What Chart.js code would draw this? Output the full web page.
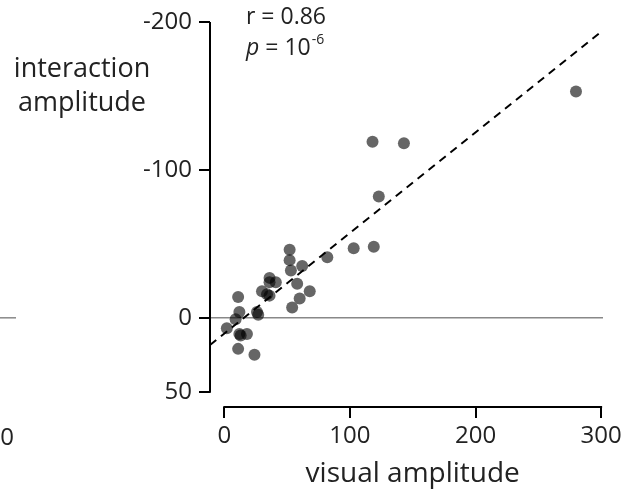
<!DOCTYPE html>
<html>
<head>
<meta charset="utf-8">
<script src="https://cdn.jsdelivr.net/npm/chart.js@4"></script>
<style>
  html, body { margin: 0; padding: 0; background: #fff; }
  canvas { display: block; }
</style>
</head>
<body>
<canvas id="chart" width="635" height="492"></canvas>
<script>
// values
const visualAmp = [280, 118, 143, 123, 103, 119, 82, 52, 52, 62, 53, 36, 36, 41, 30, 36, 34, 58, 68, 60, 54, 11, 12, 26, 27, 9, 2, 12, 13, 18, 11, 24];
const interactionAmp = [-153, -119, -118, -82, -47, -48, -41, -46, -39, -35, -32, -27, -24, -24, -18, -15, -16, -23, -18, -13, -7, -14, -4, -4, -2, 1, 7, 11, 12, 11, 21, 25];
const fitX = [-11.4, 301.5];
const fitY = [18.4, -194.4];
const xTicks = [0, 100, 200, 300];
const yTicks = [-200, -100, 0, 50];
const zeroLineX = [-11.4, 301.5];

const FONT = "'Open Sans', sans-serif";
const TEXT = '#222';

const points = visualAmp.map((x, i) => ({ x, y: interactionAmp[i] }));
const fitLine = fitX.map((x, i) => ({ x, y: fitY[i] }));
const zeroLine = zeroLineX.map(x => ({ x, y: 0 }));

const axesAndLabels = {
  id: 'axesAndLabels',
  afterDatasetsDraw(chart) {
    const { ctx, scales: { x, y }, chartArea } = chart;
    ctx.save();
    ctx.strokeStyle = '#000';
    ctx.lineWidth = 2;
    ctx.lineCap = 'butt';
    // detached axis spines
    ctx.beginPath();
    ctx.moveTo(chartArea.left, y.getPixelForValue(yTicks[0]));
    ctx.lineTo(chartArea.left, y.getPixelForValue(yTicks[yTicks.length - 1]) + 1);
    ctx.moveTo(x.getPixelForValue(xTicks[0]) - 1, chartArea.bottom);
    ctx.lineTo(x.getPixelForValue(xTicks[xTicks.length - 1]) + 1, chartArea.bottom);
    ctx.stroke();

    // remnant of the neighbouring panel
    const y0 = y.getPixelForValue(0);
    ctx.strokeStyle = '#888';
    ctx.lineWidth = 1.5;
    ctx.beginPath();
    ctx.moveTo(0, y0);
    ctx.lineTo(16, y0);
    ctx.stroke();

    ctx.fillStyle = TEXT;
    ctx.textBaseline = 'middle';
    ctx.font = `24px ${FONT}`;
    ctx.textAlign = 'right';
    ctx.fillText('300', 14, 438);

    // axis titles
    ctx.textBaseline = 'alphabetic';
    ctx.font = `28px ${FONT}`;
    ctx.textAlign = 'center';
    ctx.fillText('visual amplitude', x.getPixelForValue(150), 482);
    ctx.font = `27px ${FONT}`;
    ctx.fillText('interaction', 82, 77);
    ctx.fillText('amplitude', 82, 111);

    // stats annotation
    ctx.textBaseline = 'middle';
    ctx.textAlign = 'left';
    ctx.font = `23px ${FONT}`;
    ctx.fillText('r = 0.86', 246, 17);
    ctx.font = `italic 23px ${FONT}`;
    ctx.fillText('p', 246, 48);
    let px = 246 + ctx.measureText('p').width;
    ctx.font = `23px ${FONT}`;
    ctx.fillText(' = 10', px, 48);
    px += ctx.measureText(' = 10').width;
    ctx.font = `14px ${FONT}`;
    ctx.fillText('-6', px + 1, 40);
    ctx.restore();
  }
};

new Chart(document.getElementById('chart').getContext('2d'), {
  type: 'scatter',
  data: {
    datasets: [
      {
        type: 'line',
        data: zeroLine,
        borderColor: '#888',
        borderWidth: 1.5,
        pointRadius: 0,
        order: 3
      },
      {
        data: points,
        backgroundColor: 'rgba(0, 0, 0, 0.6)',
        borderWidth: 0,
        pointRadius: 6,
        order: 2
      },
      {
        type: 'line',
        data: fitLine,
        borderColor: '#000',
        borderWidth: 2,
        borderDash: [8, 6],
        pointRadius: 0,
        order: 1
      }
    ]
  },
  options: {
    responsive: false,
    animation: false,
    layout: { padding: { top: 22, right: 32, left: 0, bottom: 0 } },
    plugins: {
      legend: { display: false },
      tooltip: { enabled: false }
    },
    scales: {
      x: {
        type: 'linear',
        min: fitX[0],
        max: fitX[1],
        afterBuildTicks: scale => { scale.ticks = xTicks.map(value => ({ value })); },
        afterFit: scale => { scale.height = 85; },
        border: { display: false },
        grid: { drawOnChartArea: false, drawTicks: true, tickLength: 11, color: '#000', lineWidth: 2 },
        ticks: { color: TEXT, font: { family: FONT, size: 24 }, padding: 4, maxRotation: 0 }
      },
      y: {
        type: 'linear',
        reverse: true,
        min: -200,
        max: 60.3,
        afterBuildTicks: scale => { scale.ticks = yTicks.map(value => ({ value })); },
        afterFit: scale => { scale.width = 210; },
        border: { display: false },
        grid: { drawOnChartArea: false, drawTicks: true, tickLength: 11, color: '#000', lineWidth: 2 },
        ticks: { color: TEXT, font: { family: FONT, size: 24 }, padding: 7 }
      }
    }
  },
  plugins: [axesAndLabels]
});
</script>
</body>
</html>
